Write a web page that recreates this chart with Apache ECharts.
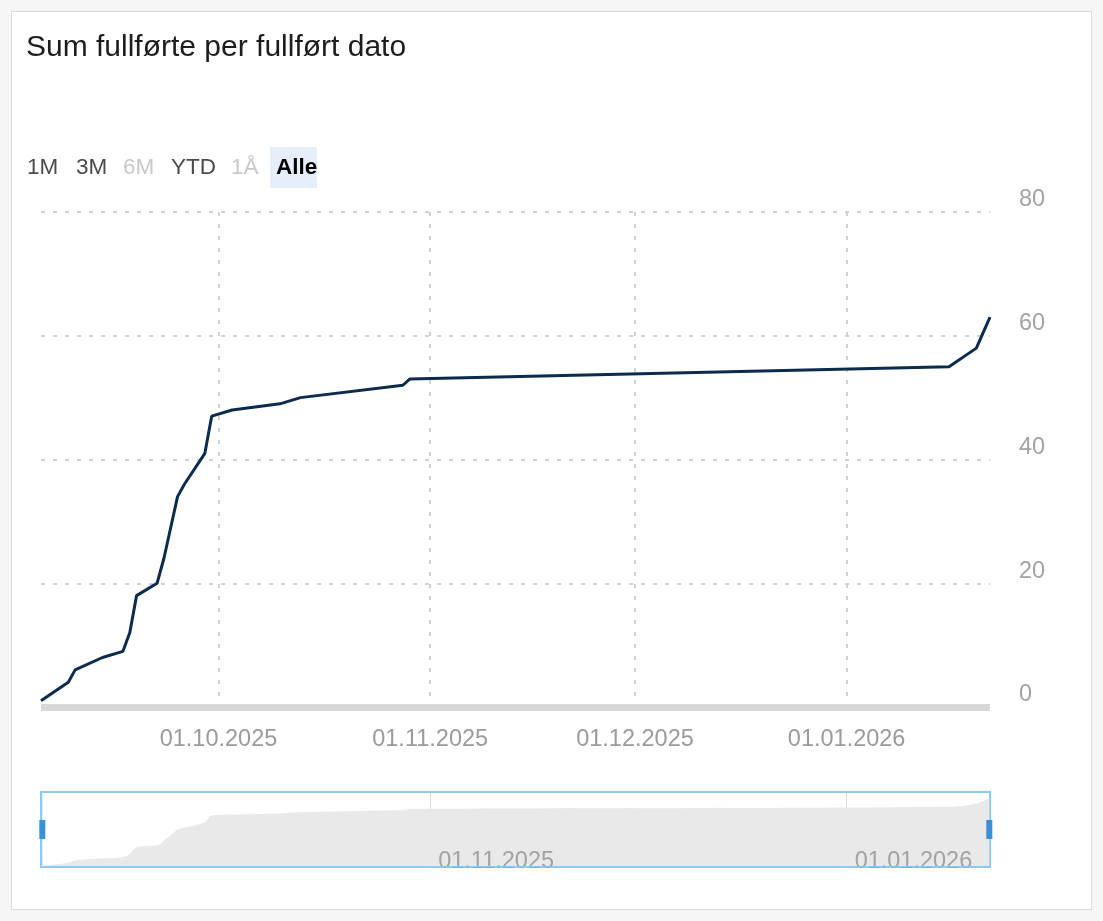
<!DOCTYPE html>
<html>
<head>
	<meta charset="utf-8">
	<title>Sum fullførte per fullført dato</title>
	<script type="text/javascript" src="https://cdn.jsdelivr.net/npm/echarts@6/dist/echarts.min.js"></script>
	<style>
		body { margin: 0; background: #f6f6f6; }
		#card { position: absolute; left: 11px; top: 11px; width: 1079px; height: 897px; background: #fff; border: 1px solid #dcdcdc; }
		#chart { position: absolute; left: 0; top: 0; width: 1103px; height: 921px; }
	</style>
</head>
<body>
	<div id="card"></div>
	<div id="chart"></div>
	<script type="text/javascript">
	// data
	var dates = ['2025-09-05','2025-09-09','2025-09-10','2025-09-14','2025-09-17','2025-09-18','2025-09-19',
		'2025-09-22','2025-09-23','2025-09-25','2025-09-26','2025-09-29','2025-09-30','2025-10-03',
		'2025-10-10','2025-10-13','2025-10-28','2025-10-29','2026-01-16','2026-01-20','2026-01-22'];
	var values = [1, 4, 6, 8, 9, 12, 18, 20, 24, 34, 36, 41, 47, 48, 49, 50, 52, 53, 55, 58, 63];
	var xTicks = ['2025-10-01', '2025-11-01', '2025-12-01', '2026-01-01'];
	var navTicks = ['2025-11-01', '2026-01-01'];
	var buttons = ['1M', '3M', '6M', 'YTD', '1Å', 'Alle'];
	var disabledButtons = ['6M', '1Å'];

	function ts(s) {
		var p = s.split('-');
		return new Date(+p[0], +p[1] - 1, +p[2]).getTime();
	}
	function fmt(v) {
		var d = new Date(v);
		var dd = ('0' + d.getDate()).slice(-2), mm = ('0' + (d.getMonth() + 1)).slice(-2);
		return dd + '.' + mm + '.' + d.getFullYear();
	}

	var points = dates.map(function (d, i) { return [ts(d), values[i]]; });
	var xMin = ts(dates[0]), xMax = ts(dates[dates.length - 1]);
	var font = 'Liberation Sans';
	var dotted = { color: '#d2d2d2', width: 2, type: [4, 8] };

	// range selector buttons
	var btnX = [27, 76, 123, 171, 231, 276];
	var graphics = [{
		type: 'rect', left: 270, top: 147, shape: { width: 47, height: 41 },
		style: { fill: '#e6eef9' }
	}];
	buttons.forEach(function (b, i) {
		var active = b === 'Alle';
		graphics.push({
			type: 'text', left: btnX[i], top: 156,
			style: {
				text: b, font: (active ? 'bold ' : '') + '22.5px "' + font + '"',
				fill: active ? '#000' : (disabledButtons.indexOf(b) >= 0 ? '#c8c8c8' : '#4a4a4a')
			}
		});
	});

	var chart = echarts.init(document.getElementById('chart'));
	chart.setOption({
		backgroundColor: 'transparent',
		animation: false,
		textStyle: { fontFamily: font },
		title: {
			text: 'Sum fullførte per fullført dato',
			left: 26, top: 33, padding: 0,
			textStyle: { fontSize: 30, fontWeight: 'normal', color: '#1d1d1d', fontFamily: font }
		},
		graphic: graphics,
		grid: [
			{ left: 41, right: 113, top: 212, bottom: 214 },
			{ left: 41, right: 113, top: 792, height: 75, show: true, borderColor: '#8ec8f0', borderWidth: 2, backgroundColor: 'transparent' }
		],
		xAxis: [{
			type: 'value', gridIndex: 0, min: xMin, max: xMax,
			axisLine: { lineStyle: { color: '#d8d8d8', width: 7, cap: 'butt' } },
			axisTick: { show: false, customValues: xTicks.map(ts) },
			axisLabel: {
				customValues: xTicks.map(ts), formatter: fmt,
				color: '#9b9b9b', fontSize: 23.5, margin: 21
			},
			splitLine: { show: true, lineStyle: dotted }
		}, {
			type: 'value', gridIndex: 1, min: xMin, max: xMax, z: 3,
			axisLine: { show: false },
			axisTick: { show: false, customValues: navTicks.map(ts) },
			axisLabel: {
				customValues: navTicks.map(ts), formatter: fmt, inside: true,
				align: 'left', verticalAlign: 'bottom', padding: [0, 0, 0, 8], margin: -7,
				color: '#a3a3a3', fontSize: 23.5
			},
			splitLine: { show: true, lineStyle: { color: '#dedede', width: 1 } }
		}],
		yAxis: [{
			type: 'value', gridIndex: 0, position: 'right', min: 0, max: 80, interval: 20,
			axisLine: { show: false }, axisTick: { show: false },
			axisLabel: { color: '#a3a3a3', fontSize: 23.5, margin: 29, align: 'left', verticalAlign: 'bottom' },
			splitLine: { lineStyle: dotted }
		}, {
			type: 'value', gridIndex: 1, show: false,
			min: function (v) { return v.min - 0.9; },
			max: function (v) { return v.max + 5.5; },
			splitLine: { show: false }
		}],
		dataZoom: [{
			type: 'slider', xAxisIndex: 0, start: 0, end: 100,
			left: 41, right: 113, top: 792, height: 75,
			backgroundColor: 'transparent', borderColor: '#8ec8f0',
			fillerColor: 'rgba(0,0,0,0)',
			showDataShadow: false, showDetail: false, brushSelect: false,
			moveHandleSize: 0,
			handleIcon: 'path://M0,0H6V19H0Z', handleSize: 19,
			handleStyle: { color: '#3a8fd9', borderWidth: 0 },
			emphasis: { handleStyle: { color: '#3a8fd9', borderWidth: 0 } }
		}],
		series: [{
			name: 'Sum fullførte',
			type: 'line', xAxisIndex: 0, yAxisIndex: 0,
			data: points, showSymbol: false,
			lineStyle: { color: '#0b2c4d', width: 3 },
			itemStyle: { color: '#0b2c4d' }
		}, {
			name: 'navigator',
			type: 'line', xAxisIndex: 1, yAxisIndex: 1,
			data: points, showSymbol: false, smooth: 0.4, silent: true,
			lineStyle: { width: 0 },
			areaStyle: { color: '#e9e9e9', opacity: 1 }
		}]
	});
	</script>
</body>
</html>
